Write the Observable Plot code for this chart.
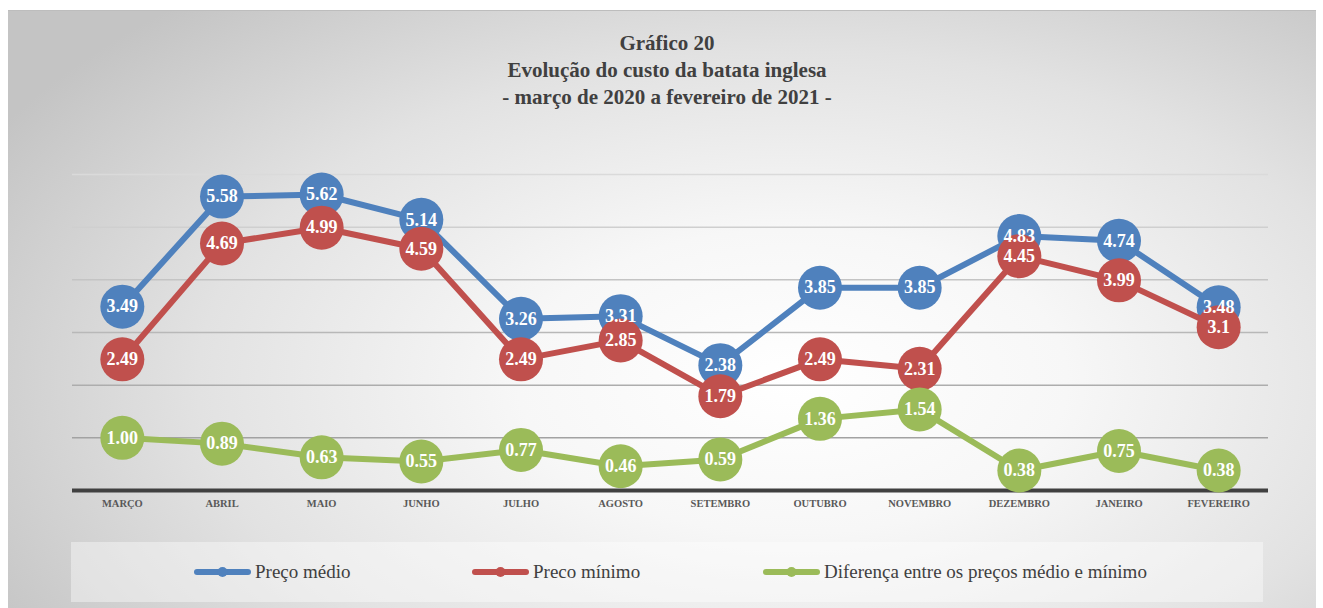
<!DOCTYPE html>
<html>
<head>
<meta charset="utf-8">
<script src="https://cdn.jsdelivr.net/npm/d3@7"></script>
<script src="https://cdn.jsdelivr.net/npm/@observablehq/plot@0.6"></script>
<style>
  html, body { margin: 0; padding: 0; background: #fff; width: 1323px; height: 608px; overflow: hidden; }
  #frame {
    position: absolute; left: 8px; top: 10px; width: 1308px; height: 598px;
    border-top: 1px solid #bdbdbd;
    box-sizing: border-box;
    background: radial-gradient(ellipse 70% 85% at 60% 62%, #ffffff 0%, #f7f7f7 30%, #e2e2e2 65%, #c4c4c4 100%);
    font-family: "Liberation Serif", serif;
  }
  #title {
    position: absolute; left: 0; top: 19px; width: 1318px; text-align: center;
    font-weight: bold; font-size: 21px; line-height: 27px; color: #404040;
  }
  #chart { position: absolute; left: 0; top: 0; }
  #legend {
    position: absolute; left: 63px; top: 531px; width: 1192px; height: 60px;
    background: rgba(255,255,255,0.4);
  }
  .item { position: absolute; top: 0; height: 60px; display: flex; align-items: center; font-size: 19px; color: #404040; }
  .item svg { margin-right: 4px; }
</style>
</head>
<body>
<div id="frame">
  <div id="title">Gráfico 20<br>Evolução do custo da batata inglesa<br>- março de 2020 a fevereiro de 2021 -</div>
  <div id="chart"></div>
  <div id="legend"></div>
</div>
<script>
const months = ["MARÇO","ABRIL","MAIO","JUNHO","JULHO","AGOSTO","SETEMBRO","OUTUBRO","NOVEMBRO","DEZEMBRO","JANEIRO","FEVEREIRO"];
const precoMedio = [3.49, 5.58, 5.62, 5.14, 3.26, 3.31, 2.38, 3.85, 3.85, 4.83, 4.74, 3.48];
const precoMinimo = [2.49, 4.69, 4.99, 4.59, 2.49, 2.85, 1.79, 2.49, 2.31, 4.45, 3.99, 3.1];
const diferenca = [1.00, 0.89, 0.63, 0.55, 0.77, 0.46, 0.59, 1.36, 1.54, 0.38, 0.75, 0.38];
const seriesNames = ["Preço médio", "Preco mínimo", "Diferença entre os preços médio e mínimo"];
const gridValues = [1, 2, 3, 4, 5, 6];

const colors = ["#4f81bd", "#c0504d", "#9bbb59"];
const formats = [v => String(v), v => String(v), d3.format(".2f")];
const seriesValues = [precoMedio, precoMinimo, diferenca];

const rows = [];
seriesValues.forEach((vals, s) => {
  vals.forEach((v, i) => rows.push({series: seriesNames[s], month: months[i], value: v, label: formats[s](v), s}));
});

const marks = [
  Plot.ruleY(gridValues, {stroke: d => d3.interpolateRgb("#a2a2a2", "#dadada")((d - 1) / 5), strokeWidth: 1.5}),
  Plot.ruleY([0], {stroke: "#404040", strokeWidth: 4}),
  Plot.axisX({tickSize: 0, tickPadding: 9, fontSize: 10.5, fontWeight: "bold", fill: "#595959", fontFamily: "Liberation Serif"})
];
seriesNames.forEach((name, s) => {
  const d = rows.filter(r => r.s === s);
  marks.push(Plot.line(d, {x: "month", y: "value", stroke: colors[s], strokeWidth: 6}));
  marks.push(Plot.dot(d, {x: "month", y: "value", r: 22, fill: colors[s], stroke: "none"}));
});
marks.push(Plot.text(rows, {x: "month", y: "value", text: "label", fill: "white", fontSize: 18, fontWeight: "bold", fontFamily: "Liberation Serif"}));

const chart = Plot.plot({
  width: 1308, height: 530,
  marginLeft: 64, marginRight: 48, marginTop: 163, marginBottom: 51,
  style: {background: "transparent", overflow: "visible"},
  x: {type: "point", domain: months, padding: 0.5, round: false, label: null},
  y: {domain: [0, 6], axis: null},
  marks
});
document.getElementById("chart").appendChild(chart);

const legend = document.getElementById("legend");
const legendX = [123, 401, 692];
seriesNames.forEach((name, s) => {
  const item = document.createElement("div");
  item.className = "item";
  item.style.left = legendX[s] + "px";
  item.innerHTML = `<svg width="57" height="14"><line x1="3" y1="7" x2="54" y2="7" stroke="${colors[s]}" stroke-width="6" stroke-linecap="round"/><circle cx="28.5" cy="7" r="5" fill="${colors[s]}"/></svg><span>${name}</span>`;
  legend.appendChild(item);
});
</script>
</body>
</html>
